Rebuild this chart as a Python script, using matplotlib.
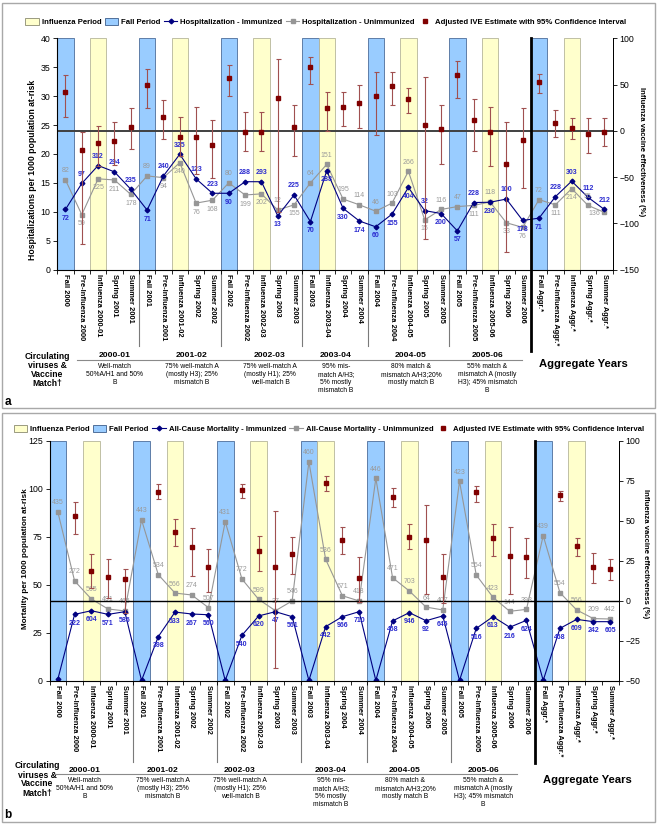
import numpy as np
import matplotlib
matplotlib.use("Agg")
import matplotlib.pyplot as plt
from matplotlib.patches import Patch, Rectangle
from matplotlib.lines import Line2D
import matplotlib.transforms as mtransforms

plt.rcParams['font.family'] = ['Liberation Sans', 'DejaVu Sans']

# ---------------- data ----------------
categories = [
    "Fall 2000", "Pre-Influenza 2000", "Influenza 2000-01", "Spring 2001", "Summer 2001",
    "Fall 2001", "Pre-Influenza 2001", "Influenza 2001-02", "Spring 2002", "Summer 2002",
    "Fall 2002", "Pre-Influenza 2002", "Influenza 2002-03", "Spring 2003", "Summer 2003",
    "Fall 2003", "Influenza 2003-04", "Spring 2004", "Summer 2004",
    "Fall 2004", "Pre-Influenza 2004", "Influenza 2004-05", "Spring 2005", "Summer 2005",
    "Fall 2005", "Pre-Influenza 2005", "Influenza 2005-06", "Spring 2006", "Summer 2006",
    "Fall Aggr.*", "Pre-Influenza Aggr.*", "Influenza Aggr.*", "Spring Aggr.*", "Summer Aggr.*",
]

# Panel a: hospitalization
hosp_imm = [10.4, 14.9, 18.0, 16.9, 13.9, 10.3, 16.2, 19.95, 15.7, 13.2,
            13.2, 15.2, 15.2, 9.3, 12.9, 8.3, 17.1, 10.6, 8.4,
            7.4, 9.6, 14.2, 10.2, 9.7, 6.7, 11.6, 11.65, 12.2, 8.5,
            8.9, 12.6, 15.3, 12.5, 10.4]
hosp_unimm = [15.5, 9.5, 15.7, 15.5, 13.0, 16.2, 15.9, 18.5, 11.5, 12.0,
              15.0, 12.9, 13.1, 10.3, 11.2, 15.0, 18.2, 12.2, 11.2,
              10.1, 11.5, 17.0, 8.6, 10.4, 10.9, 11.1, 11.7, 8.1, 7.3,
              12.1, 11.2, 14.0, 11.1, 9.9]
hosp_imm_n = [72, 97, 312, 294, 235, 71, 240, 325, 123, 223,
              90, 288, 293, 13, 225, 70, 288, 330, 174,
              60, 155, 404, 32, 200, 57, 228, 230, 100, 178,
              71, 228, 303, 112, 212]
hosp_unimm_n = [82, 59, 225, 211, 178, 89, 94, 240, 76, 168,
                80, 199, 202, 12, 155, 64, 151, 195, 114,
                46, 103, 266, 15, 116, 47, 111, 118, 33, 76,
                72, 111, 214, 55, 136]
ive_a = [41.6, -20.7, -13.5, -11.3, 4.2, 49.6, 14.6, -6.3, -7.0, -15.6,
         57.5, -1.6, -1.6, 35.2, 4.2, 68.7, 24.7, 26.2, 30.5,
         38.0, 48.5, 34.4, 6.3, 2.0, 60.7, 11.7, -0.9, -35.4, -10.2,
         52.4, 8.5, 3.5, -3.4, -0.9]
ive_a_hi = [60.0, -1.6, 5.6, 9.2, 24.4, 66.5, 33.4, 15.3, 25.8, 11.4,
            70.8, 20.7, 20.7, 78.0, 28.3, 80.2, 41.6, 41.6, 49.9,
            63.3, 63.3, 46.7, 58.6, 28.3, 75.9, 34.8, 25.8, 9.6, 24.4,
            61.8, 22.2, 14.3, 13.5, 13.5]
ive_a_lo = [14.6, -122.0, -37.6, -36.9, -19.6, 24.4, -9.1, -27.2, -46.6, -50.9,
            38.0, -21.4, -21.4, -87.3, -26.8, 51.0, 0.0, 5.6, 2.7,
            -4.5, 28.3, 19.0, -117.0, -36.2, 35.2, -22.1, -38.0, -131.0, -61.4,
            40.6, -6.6, -9.1, -24.3, -16.4]

# Panel b: all-cause mortality
mort_imm = [1.0, 34.7, 36.6, 34.7, 36.1, 0.3, 23.1, 35.9, 34.9, 34.5,
            0.3, 23.8, 33.9, 36.1, 33.5, 0.3, 28.3, 33.5, 36.1,
            0.3, 31.3, 35.6, 31.4, 33.9, 0.3, 27.4, 33.5, 28.0, 31.6,
            0.3, 27.4, 32.1, 30.9, 30.9]
mort_unimm = [88.0, 52.1, 42.7, 37.5, 36.5, 83.9, 55.4, 45.8, 44.8, 38.2,
              83.0, 53.1, 42.5, 36.6, 41.7, 114.2, 63.4, 44.4, 41.7,
              105.6, 53.8, 46.9, 38.5, 37.0, 104.0, 55.2, 43.6, 36.3, 37.3,
              75.7, 46.0, 37.0, 32.5, 32.3]
mort_imm_n = [None, 222, 604, 571, 586, None, 398, 533, 267, 560,
              None, 540, 620, 47, 561, None, 442, 966, 710,
              None, 468, 946, 92, 645, None, 516, 613, 216, 624,
              None, 468, 609, 242, 605]
mort_unimm_n = [435, 272, 565, 491, 465, 443, 534, 566, 274, 507,
                431, 772, 599, 37, 546, 460, 536, 671, 418,
                446, 471, 703, 64, 407, 423, 554, 423, 144, 393,
                439, 554, 566, 209, 442]
ive_b = [None, 53.1, 19.0, 15.2, 14.0, None, 68.1, 43.3, 33.5, 21.0,
         None, 69.2, 31.3, 21.0, 29.4, None, 74.0, 38.3, 14.2,
         None, 65.0, 40.2, 38.3, 15.2, None, 68.3, 39.4, 28.3, 27.7,
         None, 66.3, 34.4, 21.5, 20.2]
ive_b_hi = [None, 61.7, 29.2, 26.0, 19.8, None, 73.1, 51.0, 45.8, 32.3,
            None, 73.1, 40.8, 56.3, 40.0, None, 77.9, 46.0, 27.3,
            None, 70.8, 47.9, 59.8, 29.2, None, 71.7, 47.9, 46.0, 39.2,
            None, 69.0, 39.2, 30.2, 26.0]
ive_b_lo = [None, 42.1, 7.9, 1.7, -7.7, None, 63.5, 34.2, 15.8, 5.8,
            None, 64.2, 19.0, -42.1, 16.9, None, 69.0, 29.2, -0.4,
            None, 59.0, 32.3, 4.4, -1.5, None, 62.1, 28.3, 4.4, 14.2,
            None, 62.7, 28.3, 11.0, 13.1]

seasons = ["2000-01", "2001-02", "2002-03", "2003-04", "2004-05", "2005-06"]
season_desc = [
    "Well-match\n50%A/H1 and 50%\nB",
    "75% well-match A\n(mostly H3); 25%\nmismatch B",
    "75% well-match A\n(mostly H1); 25%\nwell-match B",
    "95% mis-\nmatch A/H3;\n5% mostly\nmismatch B",
    "80% match &\nmismatch A/H3;20%\nmostly match B",
    "55% match &\nmismatch A (mostly\nH3); 45% mismatch\nB",
]

# ---------------- style ----------------
W, H = 661, 827
BLUE_BAND = '#99CCFF'
YEL_BAND = '#FFFFCC'
NAVY = '#000080'
GREY = '#969696'
RED = '#800000'
ECOL = '#a05050'
LBL_BLUE = '#2b2bd0'
LBL_GREY = '#9a9a9a'

# label placement (a=above, b=below, l=left, r=right)
pos_a_imm = "baaaabaaaabaababbbbbbbabbababbaaaa"
pos_a_unimm = "abbbbabbbbabbabaaaaaaabaababbabbal"
pos_b_imm = "b" * 34
pos_b_unimm = "a" * 34

fig = plt.figure(figsize=(W / 100, H / 100), dpi=100)


def fx(x):
    return x / W


def fy(y):
    return 1 - y / H


OFFS = {'a': ((0, 4), 'center', 'bottom'), 'b': ((0, -4), 'center', 'top'),
        'l': ((-3, -1), 'right', 'center'), 'r': ((4, 0), 'left', 'center')}


def draw_panel(ax_box, imm, unimm, imm_n, unimm_n, ive, hi, lo, pos_imm, pos_unimm,
               ylim, yticks, rylim, ryticks, ylabel, ylab_size, ylab_xy, rlab_xy,
               zero_lw, zero_col, sep_bottom, thick_bottom):
    l, b, w, h = ax_box
    ax = fig.add_axes([fx(l), fy(b), w / W, h / H])
    n = len(categories)
    x = np.arange(n) + 0.5
    for i, c in enumerate(categories):
        if c.startswith("Fall"):
            ax.axvspan(i, i + 1, facecolor=BLUE_BAND, edgecolor='#4d6d9a', lw=0.6, zorder=0)
        elif c.startswith("Influenza"):
            ax.axvspan(i, i + 1, facecolor=YEL_BAND, edgecolor='#b5b59a', lw=0.6, zorder=0)
    ax.plot(x, unimm, color=GREY, lw=0.8, marker='s', ms=2.6, mfc=GREY, mec=GREY, zorder=3)
    ax.plot(x, imm, color=NAVY, lw=0.8, marker='D', ms=2.4, mfc=NAVY, mec=NAVY, zorder=4)
    for i in range(n):
        for vals, labs, pos, col, wt in ((imm, imm_n, pos_imm, LBL_BLUE, 'bold'),
                                          (unimm, unimm_n, pos_unimm, LBL_GREY, 'normal')):
            if labs[i] is None:
                continue
            off, ha, va = OFFS[pos[i]]
            ax.annotate(str(labs[i]), (x[i], vals[i]), xytext=off,
                        textcoords='offset points', ha=ha, va=va, fontsize=5.0,
                        color=col, fontweight=wt, zorder=5)
    ax.set_xlim(0, n)
    ax.set_ylim(*ylim)
    ax.set_yticks(yticks)
    ax.set_xticks(x)
    ax.set_xticklabels(categories, rotation=-90, fontsize=5.4, fontweight='bold',
                       va='top', ha='center')
    ax.set_xticks(np.arange(n + 1), minor=True)
    ax.tick_params(axis='x', which='major', length=0, pad=3)
    ax.tick_params(axis='x', which='minor', length=3, width=0.6)
    ax.tick_params(axis='y', labelsize=6.3, length=3, width=0.6, pad=2)
    ax.set_ylabel(ylabel, fontsize=ylab_size, fontweight='bold', va='center')
    ax.yaxis.set_label_coords(*ylab_xy)
    ax.spines['top'].set_visible(False)
    for s in ('left', 'bottom', 'right'):
        ax.spines[s].set_linewidth(0.7)

    ax2 = ax.twinx()
    ive_arr = np.array([np.nan if v is None else v for v in ive], dtype=float)
    hi_arr = np.array([np.nan if v is None else v for v in hi], dtype=float)
    lo_arr = np.array([np.nan if v is None else v for v in lo], dtype=float)
    ax2.axhline(0, color=zero_col, lw=zero_lw, zorder=1)
    ax2.errorbar(x, ive_arr, yerr=[ive_arr - lo_arr, hi_arr - ive_arr], fmt='s',
                 color=RED, ms=2.6, ecolor=ECOL, elinewidth=0.8, capsize=1.8,
                 capthick=0.8, zorder=6)
    ax2.set_ylim(*rylim)
    ax2.set_yticks(ryticks)
    ax2.tick_params(axis='y', labelsize=6.3, length=3, width=0.6, pad=2)
    ax2.set_ylabel("Influenza vaccine effectiveness (%)", fontsize=5.6,
                   fontweight='bold', rotation=-90, va='center')
    ax2.yaxis.set_label_coords(*rlab_xy)
    ax2.spines['top'].set_visible(False)
    ax2.spines['right'].set_linewidth(0.7)
    ax2.set_xlim(0, n)

    trans = mtransforms.blended_transform_factory(ax.transData, ax.transAxes)
    for bnd in (5, 10, 15, 19, 24):
        ax.plot([bnd, bnd], [0, -sep_bottom], transform=trans, color='#7a7a7a',
                lw=0.8, clip_on=False, zorder=1)
    ax2.plot([29, 29], [1, -thick_bottom], transform=mtransforms.blended_transform_factory(
        ax2.transData, ax2.transAxes), color='black', lw=2.0, clip_on=False, zorder=7)
    return ax, ax2


def draw_table(circ_x, circ_y, header_x, header_y, line_x0, line_x1, line_y,
               desc_y, agg_x, agg_y, letter, letter_y, box_top, box_bottom,
               legend_x, legend_y, legend_labels):
    fig.text(fx(circ_x), fy(circ_y), "Circulating\nviruses &\nVaccine\nMatch\u2020",
             ha='center', va='center', fontsize=6.2, fontweight='bold', linespacing=1.0)
    for hx, s, d in zip(header_x, seasons, season_desc):
        fig.text(fx(hx), fy(header_y), s, ha='center', va='center', fontsize=6.1,
                 fontweight='bold')
        fig.text(fx(hx), fy(desc_y), d, ha='center', va='top', fontsize=4.9,
                 linespacing=1.15)
    fig.add_artist(Line2D([fx(line_x0), fx(line_x1)], [fy(line_y), fy(line_y)],
                          color='#8a8a8a', lw=0.8))
    fig.text(fx(agg_x), fy(agg_y), "Aggregate Years", ha='center', va='center',
             fontsize=8.1, fontweight='bold')
    fig.text(fx(8), fy(letter_y), letter, ha='center', va='center', fontsize=8.5,
             fontweight='bold')
    fig.add_artist(Rectangle((fx(2), fy(box_bottom)), 653 / W, (box_bottom - box_top) / H,
                             transform=fig.transFigure, fill=False,
                             edgecolor='#a8a8a8', lw=1.0))
    handles = [Patch(facecolor=YEL_BAND, edgecolor='#8a8a70', lw=0.6),
               Patch(facecolor=BLUE_BAND, edgecolor='#3d5d8a', lw=0.6),
               Line2D([], [], color=NAVY, lw=0.8, marker='D', ms=2.4),
               Line2D([], [], color=GREY, lw=0.8, marker='s', ms=2.4),
               Line2D([], [], color=RED, lw=0, marker='s', ms=2.6)]
    fig.legend(handles, legend_labels, loc='center',
               bbox_to_anchor=(fx(legend_x), fy(legend_y)),
               ncol=5, frameon=False, prop={'weight': 'bold', 'size': 5.6},
               handlelength=1.7, handletextpad=0.4, columnspacing=0.45,
               handleheight=0.9, borderpad=0.1, borderaxespad=0)


# ---------------- panel a ----------------
draw_panel((57.3, 269.6, 555.2, 231.3), hosp_imm, hosp_unimm, hosp_imm_n, hosp_unimm_n,
           ive_a, ive_a_hi, ive_a_lo, pos_a_imm, pos_a_unimm,
           (0, 40), np.arange(0, 41, 5), (-150, 100), np.arange(-150, 101, 50),
           "Hospitalizations per 1000 population at-risk", 6.2,
           (-0.0438, 0.43), (1.0526, 0.508),
           1.4, '#404040', 0.330, 0.351)
draw_table(47, 370, [115, 192, 270, 336, 411, 487], 355.7, 77, 522, 359.5, 363.5,
           583, 364, "a", 402, 3, 408, 325.5, 22,
           ["Influenza Period", "Fall Period", "Hospitalization - Immunized",
            "Hospitalization - Unimmunized",
            "Adjusted IVE Estimate with 95% Confidence Interval"])

# ---------------- panel b ----------------
draw_panel((49.5, 681, 569, 240), mort_imm, mort_unimm, mort_imm_n, mort_unimm_n,
           ive_b, ive_b_hi, ive_b_lo, pos_b_imm, pos_b_unimm,
           (0, 125), np.arange(0, 126, 25), (-50, 100), np.arange(-50, 101, 25),
           "Mortality per 1000 population at-risk", 5.9,
           (-0.043, 0.51), (1.0466, 0.53),
           1.0, 'black', 0.336, 0.340)
draw_table(37, 779.5, [85, 163, 240, 331, 405, 483], 770, 55, 517, 774.3, 777.5,
           587, 780, "b", 815, 413, 822, 329, 429,
           ["Influenza Period", "Fall Period", "All-Cause Mortality - Immunized",
            "All-Cause Mortality - Unimmunized",
            "Adjusted IVE Estimate with 95% Confidence Interval"])

fig.savefig("out.png", dpi=100)
